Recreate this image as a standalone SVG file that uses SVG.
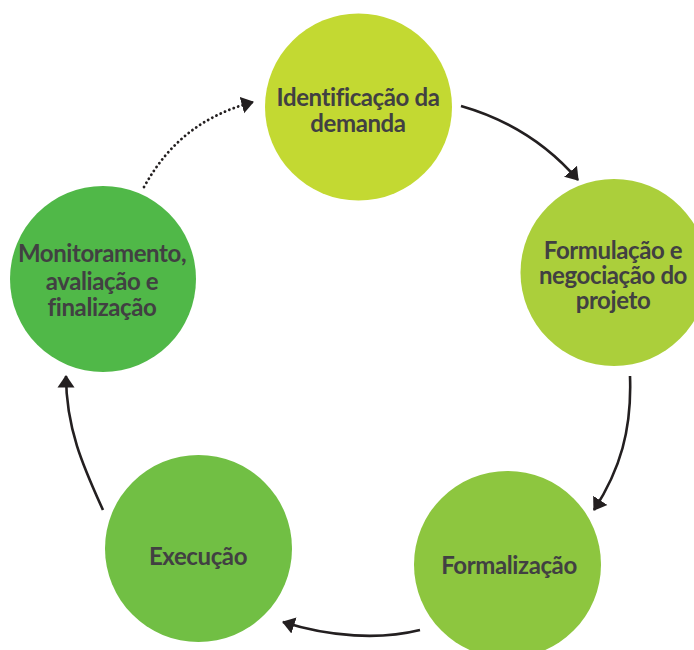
<svg xmlns="http://www.w3.org/2000/svg" width="694" height="650" viewBox="0 0 694 650">
<defs>
<marker id="ah" markerUnits="userSpaceOnUse" markerWidth="13" markerHeight="18" viewBox="0 0 13 18" refX="11.5" refY="9" orient="auto">
<path d="M12.5,9 L0,0.5 L0,17.5 Z" fill="#231f20"/>
</marker>
</defs>
<style>
.lbl{font-family:Lato,"Liberation Sans",sans-serif;font-weight:bold;font-size:24px;fill:#414042;text-anchor:middle;letter-spacing:-0.4px}
.con{fill:none;stroke:#231f20;stroke-width:2.6;marker-end:url(#ah)}
.dot{stroke-dasharray:0.1 4.6;stroke-linecap:round;stroke-width:2.8}
</style>
<rect width="694" height="650" fill="#ffffff"/>
<g id="connectors">
<path class="con" d="M461,106 C510,120 548,145 578,180"/>
<path class="con" d="M630,376 C632,430 620,470 594,510"/>
<path class="con" d="M420,630 C380,640 330,637 283,622"/>
<path class="con" d="M103,510 C85,470 66,430 66,376"/>
<path class="con dot" d="M144,187 C170,140 205,115 253,102"/>
</g>
<g id="n1">
<circle cx="358.5" cy="107" r="93.5" fill="#c3d932"/>
<text class="lbl" x="358" y="106">Identificação da</text>
<text class="lbl" x="358" y="132">demanda</text>
</g>
<g id="n2">
<circle cx="614" cy="272.5" r="93.5" fill="#abcf3b"/>
<text class="lbl" x="613" y="259">Formulação e</text>
<text class="lbl" x="613" y="284">negociação do</text>
<text class="lbl" x="613" y="309">projeto</text>
</g>
<g id="n3">
<circle cx="507.5" cy="564.5" r="93.5" fill="#8dc63f"/>
<text class="lbl" x="509" y="574">Formalização</text>
</g>
<g id="n4">
<circle cx="198.5" cy="548.5" r="93.5" fill="#71bf44"/>
<text class="lbl" x="198" y="565">Execução</text>
</g>
<g id="n5">
<circle cx="103" cy="279" r="93" fill="#50b848"/>
<text class="lbl" x="102" y="262">Monitoramento,</text>
<text class="lbl" x="102" y="290">avaliação e</text>
<text class="lbl" x="102" y="316">finalização</text>
</g>
</svg>
